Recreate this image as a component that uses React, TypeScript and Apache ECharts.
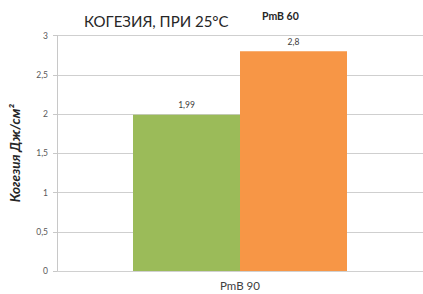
import React, { useEffect, useRef } from "react";
import * as echarts from "echarts";

const categories = ["PmB 90"];
const seriesGreen = [1.99];
const seriesOrange = [2.8];
const yTicks = { min: 0, max: 3, interval: 0.5 };
const titleText = "КОГЕЗИЯ, ПРИ 25°С";
const legendText = "PmB 60";
const yAxisName = "Когезия Дж/см²";

const fmt = (v: number) => String(v).replace(".", ",");

export default function App() {
  const ref = useRef<HTMLDivElement>(null);
  useEffect(() => {
    if (!ref.current) return;
    const chart = echarts.init(ref.current, undefined, { renderer: "svg" });
    const font = "Lato, 'Open Sans', sans-serif";
    chart.setOption({
      animation: false,
      textStyle: { fontFamily: font },
      title: [
        {
          text: titleText,
          left: 79,
          top: 8,
          textStyle: { fontSize: 15, fontWeight: "normal", color: "#262626", fontFamily: font },
        },
        {
          text: legendText,
          left: 257,
          top: 5,
          textStyle: { fontSize: 10.5, fontWeight: "bold", color: "#262626", fontFamily: font },
        },
      ],
      grid: { left: 57, top: 35.5, width: 380, height: 235.5, containLabel: false },
      xAxis: {
        type: "category",
        data: categories,
        axisLine: { show: true, lineStyle: { color: "#d0d0d0", width: 1 } },
        axisTick: { show: false },
        axisLabel: { fontSize: 11.5, color: "#404040", margin: 8, fontFamily: font },
      },
      yAxis: {
        type: "value",
        min: yTicks.min,
        max: yTicks.max,
        interval: yTicks.interval,
        name: yAxisName,
        nameLocation: "middle",
        nameGap: 35,
        nameRotate: 90,
        nameTextStyle: { fontSize: 13.5, fontWeight: "bold", fontStyle: "italic", color: "#262626", fontFamily: font },
        axisLine: { show: true, lineStyle: { color: "#c8c8c8" } },
        axisTick: { show: true, length: 4, lineStyle: { color: "#c8c8c8" } },
        axisLabel: { fontSize: 8.5, color: "#595959", margin: 9, formatter: (v: number) => fmt(v), fontFamily: font },
        splitLine: { show: true, lineStyle: { color: "#cfcfcf", width: 1 } },
      },
      series: [
        {
          type: "bar",
          name: "PmB 90",
          data: seriesGreen,
          barWidth: 107,
          barGap: "0%",
          itemStyle: { color: "#9BBB59" },
          label: { show: true, position: "top", distance: 5, fontSize: 8.5, color: "#404040", formatter: (p: any) => fmt(p.value), fontFamily: font },
        },
        {
          type: "bar",
          name: "PmB 60",
          data: seriesOrange,
          barWidth: 107,
          barGap: "0%",
          itemStyle: { color: "#F79646" },
          label: { show: true, position: "top", distance: 5, fontSize: 8.5, color: "#404040", formatter: (p: any) => fmt(p.value), fontFamily: font },
        },
      ],
    });
    return () => chart.dispose();
  }, []);
  return <div ref={ref} style={{ width: 423, height: 294, position: "absolute", left: 0, top: 0, background: "#fff" }} />;
}
